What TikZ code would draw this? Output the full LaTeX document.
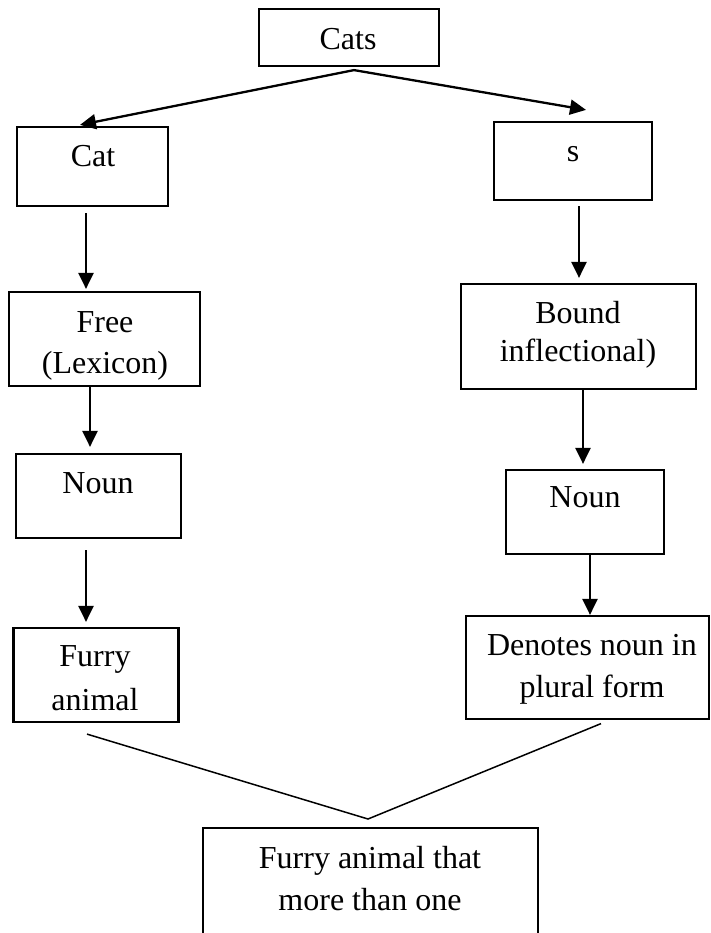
\documentclass[tikz,border=0pt]{standalone}
\usepackage{fontspec}
\setmainfont{Liberation Serif}
\usetikzlibrary{arrows.meta}
\begin{document}
\begin{tikzpicture}[x=1pt,y=-1pt,
  box/.style={draw=black, line width=2.2pt, rectangle, inner sep=0pt},
  txt/.style={anchor=base, inner sep=0pt, font=\fontsize{32}{40}\selectfont},
  arr/.style={line width=2.3pt, -{Triangle[length=16pt,width=15pt]}},
  vline/.style={line width=1.5pt}]
\useasboundingbox (0,0) rectangle (710,933);
% boxes
\node[box, minimum width=180pt, minimum height=57pt] (cats) at (349,37.5) {};
\node[box, minimum width=151pt, minimum height=79pt] (cat) at (92.5,166.5) {};
\node[box, minimum width=158pt, minimum height=78pt] (s) at (573,161) {};
\node[box, minimum width=191pt, minimum height=94pt] (free) at (104.5,339) {};
\node[box, minimum width=235pt, minimum height=105pt] (bound) at (578.5,336.5) {};
\node[box, minimum width=165pt, minimum height=84pt] (nounL) at (98.5,496) {};
\node[box, minimum width=158pt, minimum height=84pt] (nounR) at (585,512) {};
\node[box, minimum width=165pt, minimum height=94pt] (furry) at (96,675) {};
\node[box, minimum width=243pt, minimum height=103pt] (denotes) at (587.5,667.5) {};
\node[box, minimum width=335pt, minimum height=116pt] (bottom) at (370.5,886) {};
% texts
\node[txt] (catsT) at (348,50) {Cats};
\node[txt] (catT) at (93,167) {Cat};
\node[txt] (sT) at (573,162) {s};
\node[txt] (freeT1) at (105,332) {Free};
\node[txt] (freeT2) at (105,373) {(Lexicon)};
\node[txt] (boundT1) at (578,323) {Bound};
\node[txt] (boundT2) at (578,361) {inflectional)};
\node[txt] (nounLT) at (98,493) {Noun};
\node[txt] (nounRT) at (585,507) {Noun};
\node[txt] (furryT1) at (95,666) {Furry};
\node[txt] (furryT2) at (95,710) {animal};
\node[txt] (denT1) at (592,655) {Denotes noun in};
\node[txt] (denT2) at (592,697) {plural form};
\node[txt] (botT1) at (370,868) {Furry animal that};
\node[txt] (botT2) at (370,910) {more than one};
% arrows
\draw[arr] ([xshift=5pt,yshift=-3pt]cats.south) -- ([xshift=-12.5pt,yshift=1pt]cat.north);
\draw[arr] ([xshift=5pt,yshift=-3pt]cats.south) -- ([xshift=13pt,yshift=11pt]s.north);
\draw[arr] ([xshift=-6.5pt,yshift=-6pt]cat.south) -- ([xshift=-18.5pt,yshift=2pt]free.north);
\draw[arr] ([xshift=-14.5pt]free.south) -- ([xshift=-8.5pt,yshift=6pt]nounL.north);
\draw[arr] ([xshift=-12.5pt,yshift=-11pt]nounL.south) -- ([xshift=-10pt,yshift=5pt]furry.north);
\draw[arr] ([xshift=6pt,yshift=-5pt]s.south) -- ([xshift=0.5pt,yshift=5pt]bound.north);
\draw[arr] ([xshift=4.5pt]bound.south) -- ([xshift=-2pt,yshift=5pt]nounR.north);
\draw[arr] ([xshift=5pt]nounR.south) -- ([xshift=2.5pt]denotes.north);
% merging lines
\coordinate (apex) at (368,819);
\draw[vline] ([xshift=-9pt,yshift=-11pt]furry.south) -- (apex) -- ([xshift=13.5pt,yshift=-3.5pt]denotes.south);
\end{tikzpicture}
\end{document}
